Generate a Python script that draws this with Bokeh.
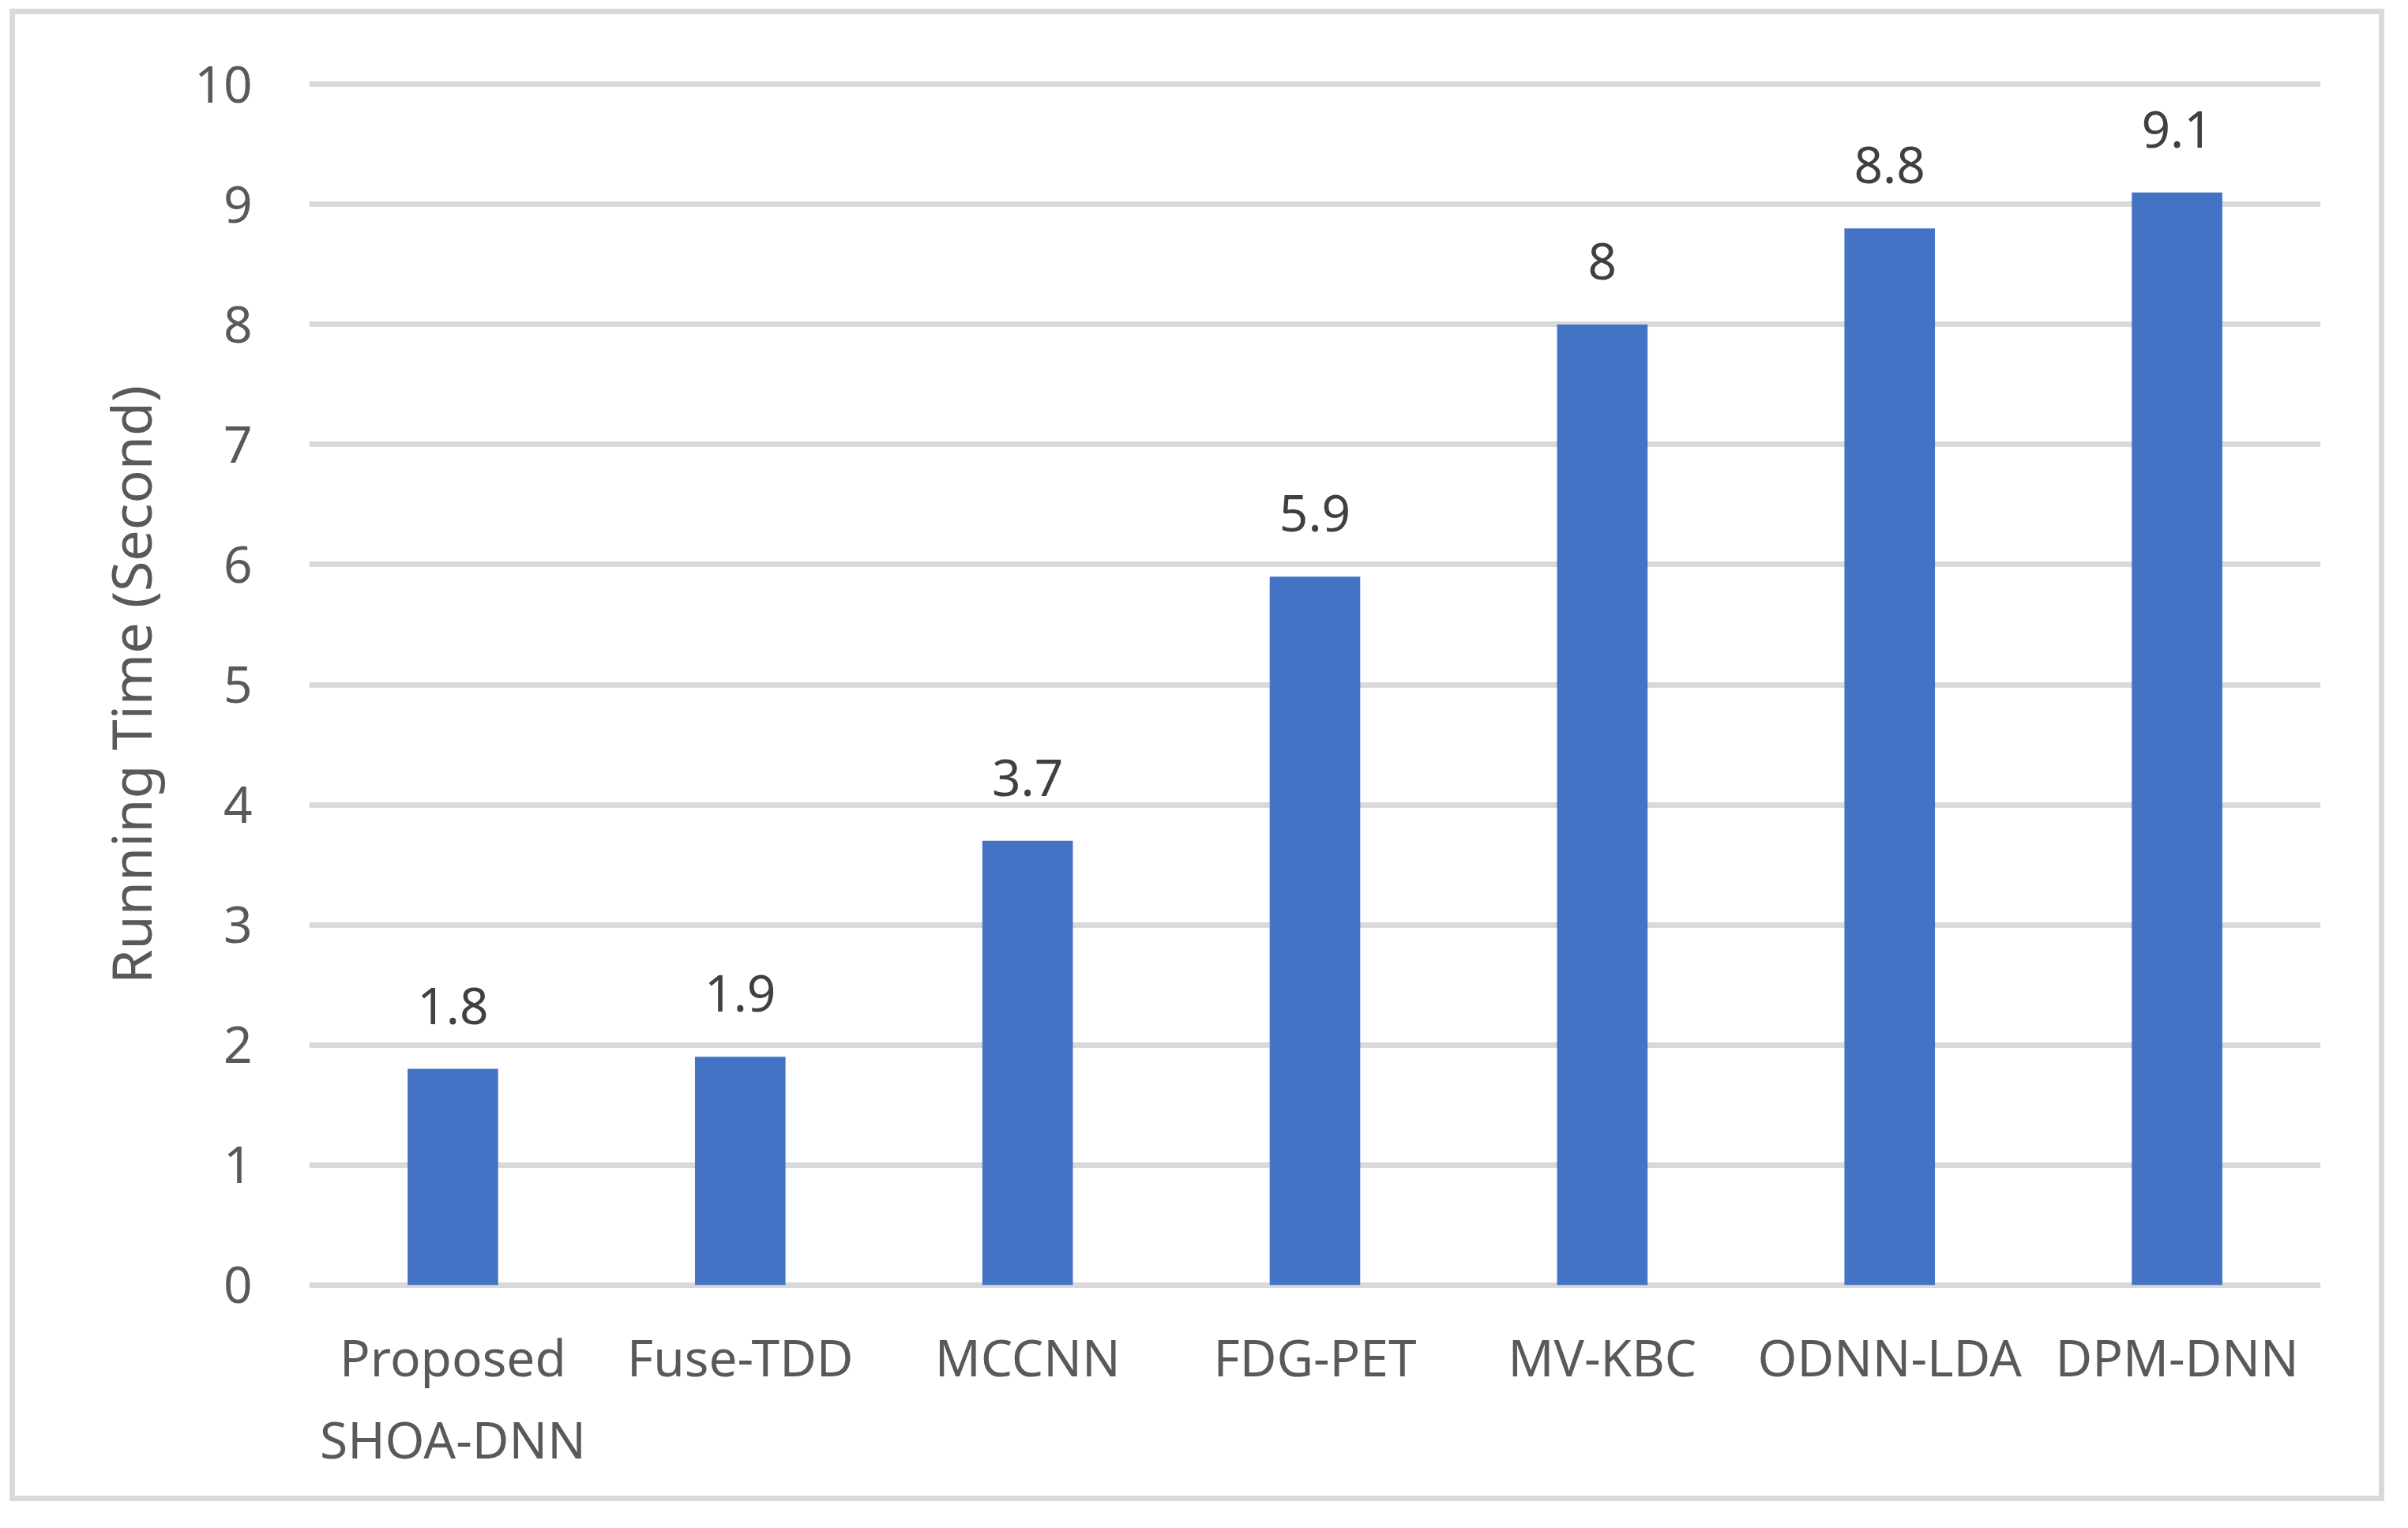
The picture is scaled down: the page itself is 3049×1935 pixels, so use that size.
from bokeh.plotting import figure
from bokeh.models import ColumnDataSource, LabelSet, FactorRange, Range1d, SingleIntervalTicker
from bokeh.core.properties import value
from bokeh.embed import file_html
from bokeh.resources import INLINE

categories = ["Proposed\nSHOA-DNN", "Fuse-TDD", "MCCNN", "FDG-PET", "MV-KBC", "ODNN-LDA", "DPM-DNN"]
running_time = [1.8, 1.9, 3.7, 5.9, 8.0, 8.8, 9.1]
value_labels = ["1.8", "1.9", "3.7", "5.9", "8", "8.8", "9.1"]

FONT = "Noto Sans"
W, H = 2993, 1876
FRAME_L, FRAME_R, FRAME_T, FRAME_B = 372, 2905, 83, 1600

src = ColumnDataSource(dict(cat=categories, val=running_time, lab=value_labels))

p = figure(width=W, height=H, output_backend="svg", toolbar_location=None,
           x_range=FactorRange(*categories, range_padding=0),
           y_range=Range1d(-0.035, 10.035),
           min_border_left=FRAME_L, min_border_right=W - FRAME_R,
           min_border_top=FRAME_T, min_border_bottom=H - FRAME_B,
           styles={"margin": "11px 0 0 12px", "border": "7px solid #d9d9d9",
                   "box-sizing": "content-box"})
p.outline_line_color = None
p.background_fill_color = "white"
p.border_fill_color = "white"

p.vbar(x="cat", top="val", bottom=0, width=0.315, source=src,
       fill_color="#4472C4", line_color=None)

p.yaxis.ticker = SingleIntervalTicker(interval=1)
p.ygrid.ticker = SingleIntervalTicker(interval=1)
p.ygrid.grid_line_color = "#d9d9d9"
p.ygrid.grid_line_width = 7
p.xgrid.grid_line_color = None

for ax in (p.xaxis[0], p.yaxis[0]):
    ax.axis_line_color = None
    ax.major_tick_line_color = None
    ax.minor_tick_line_color = None
    ax.major_tick_out = 0
    ax.major_tick_in = 0
    ax.major_label_text_font = FONT
    ax.major_label_text_font_size = "64px"
    ax.major_label_text_color = "#595959"

p.yaxis.major_label_standoff = 68
p.yaxis.axis_label = "Running Time (Second)"
p.yaxis.axis_label_text_font = FONT
p.yaxis.axis_label_text_font_size = "70px"
p.yaxis.axis_label_text_font_style = "normal"
p.yaxis.axis_label_text_color = "#595959"
p.yaxis.axis_label_standoff = 30

p.xaxis.major_label_standoff = 42
p.xaxis.major_label_orientation = "horizontal"

labels = LabelSet(x="cat", y="val", text="lab", source=src, text_align="center",
                  text_baseline="alphabetic", y_offset=57, text_font=value(FONT),
                  text_font_size="64px", text_color="#404040")
p.add_layout(labels)

open("out.html", "w").write(file_html(p, INLINE))
